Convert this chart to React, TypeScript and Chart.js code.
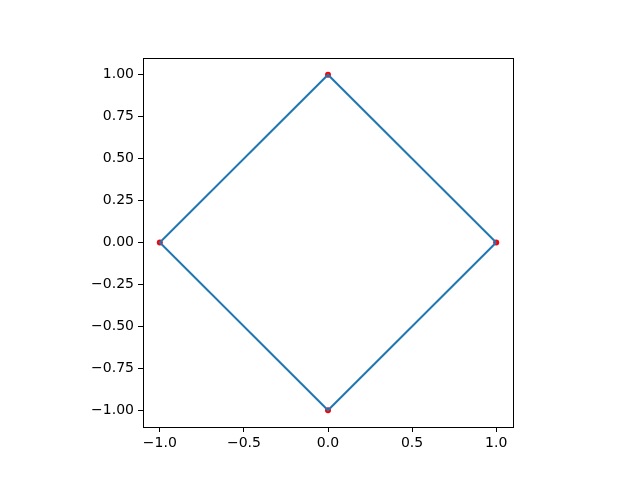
import React, { useEffect, useRef } from "react";
import { Chart, registerables } from "chart.js";

Chart.register(...registerables);

const pathX = [1, 0, -1, 0, 1];
const pathY = [0, 1, 0, -1, 0];
const vertexX = [1, 0, -1, 0];
const vertexY = [0, 1, 0, -1];
const xTicks = [-1.0, -0.5, 0.0, 0.5, 1.0];
const yTicks = [-1.0, -0.75, -0.5, -0.25, 0.0, 0.25, 0.5, 0.75, 1.0];

const fmt = (v: number, d: number) => {
  const s = Math.abs(v).toFixed(d);
  return v < -1e-9 ? "\u2212" + s : s;
};

const framePlugin = {
  id: "frame",
  afterDatasetsDraw(chart: any) {
    const { ctx, chartArea } = chart;
    ctx.save();
    ctx.strokeStyle = "#000";
    ctx.lineWidth = 1;
    ctx.strokeRect(
      Math.round(chartArea.left) + 0.5,
      Math.round(chartArea.top) + 0.5,
      Math.round(chartArea.right - chartArea.left),
      Math.round(chartArea.bottom - chartArea.top)
    );
    ctx.restore();
  },
};

export default function App() {
  const ref = useRef<HTMLCanvasElement | null>(null);
  useEffect(() => {
    document.body.style.margin = "0";
    const ctx = ref.current!.getContext("2d")!;
    const chart = new Chart(ctx, {
      type: "scatter",
      data: {
        datasets: [
          {
            data: pathX.map((x, i) => ({ x, y: pathY[i] })),
            showLine: true,
            borderColor: "#1f77b4",
            borderWidth: 2,
            pointRadius: 0,
            fill: false,
            order: 0,
          },
          {
            data: vertexX.map((x, i) => ({ x, y: vertexY[i] })),
            backgroundColor: "red",
            borderWidth: 0,
            pointRadius: 3,
            order: 1,
          },
        ],
      },
      options: {
        animation: false,
        responsive: false,
        maintainAspectRatio: false,
        layout: { padding: { top: 58, right: 127, left: 0, bottom: 0 } },
        plugins: { legend: { display: false }, tooltip: { enabled: false } },
        scales: {
          x: {
            type: "linear",
            min: -1.1,
            max: 1.1,
            afterBuildTicks: (s: any) => {
              s.ticks = xTicks.map((v) => ({ value: v }));
            },
            afterFit: (s: any) => {
              s.height = 53;
            },
            grid: { drawOnChartArea: false, drawTicks: true, tickLength: 5, color: "#000" },
            border: { display: false },
            ticks: {
              color: "#000",
              font: { family: "DejaVu Sans", size: 14 },
              padding: 3,
              maxRotation: 0,
              autoSkip: false,
              callback: (v: any) => fmt(Number(v), 1),
            },
          },
          y: {
            type: "linear",
            min: -1.1,
            max: 1.1,
            afterBuildTicks: (s: any) => {
              s.ticks = yTicks.map((v) => ({ value: v }));
            },
            afterFit: (s: any) => {
              s.width = 143;
            },
            grid: { drawOnChartArea: false, drawTicks: true, tickLength: 5, color: "#000" },
            border: { display: false },
            ticks: {
              color: "#000",
              font: { family: "DejaVu Sans", size: 14 },
              padding: 4,
              autoSkip: false,
              callback: (v: any) => fmt(Number(v), 2),
            },
          },
        },
      },
      plugins: [framePlugin],
    });
    return () => chart.destroy();
  }, []);
  return (
    <div style={{ width: 640, height: 480 }}>
      <canvas ref={ref} width={640} height={480} style={{ display: "block" }} />
    </div>
  );
}
